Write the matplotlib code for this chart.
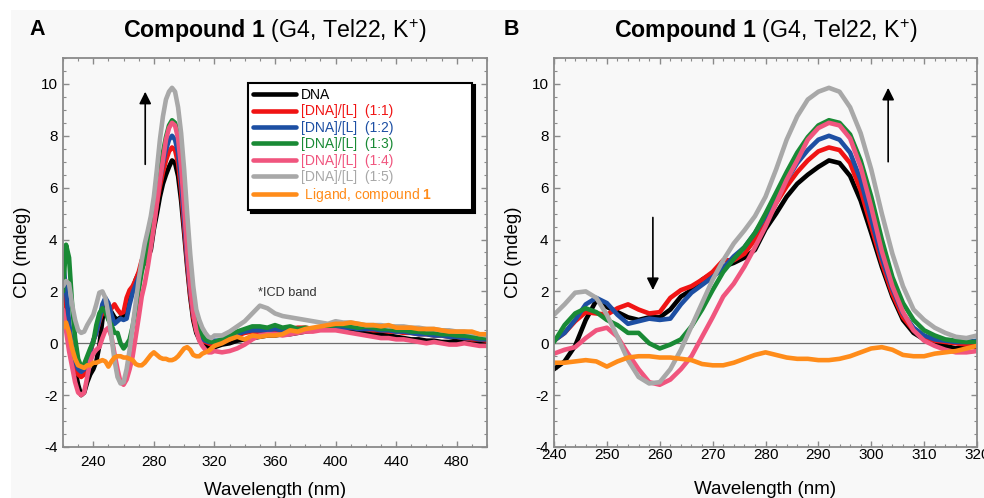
import numpy as np
import matplotlib
matplotlib.use("Agg")
import matplotlib.pyplot as plt
from matplotlib.patches import Rectangle
from matplotlib.ticker import MultipleLocator

plt.rcParams['font.family'] = ['Liberation Sans', 'DejaVu Sans']
plt.rcParams['mathtext.fontset'] = 'custom'
plt.rcParams['mathtext.rm'] = 'Liberation Sans'
plt.rcParams['mathtext.bf'] = 'Liberation Sans:bold'
plt.rcParams['mathtext.it'] = 'Liberation Sans:italic'
plt.rcParams['axes.unicode_minus'] = False

# wavelength grid (nm): 2 nm steps in the UV band, 5 nm steps beyond
wavelength = np.concatenate([np.arange(220, 321, 2), np.arange(325, 501, 5)])

dna = [2.5, 1.6, 0.6, -0.3, -1.0, -1.6, -2.0, -1.9, -1.5, -1.2, -1.0,
       -0.7, -0.1, 0.9, 1.65, 1.4, 1.2, 1.0, 0.9, 1.0, 1.0, 1.3, 1.8, 2.05, 2.45, 2.7, 2.95, 3.1, 3.3, 3.6, 4.4,
       5.0, 5.65, 6.15, 6.5, 6.8, 7.05, 6.95, 6.45, 5.5, 4.25, 2.95, 1.8, 0.9, 0.4, 0.15, 0.0, -0.1, -0.2, -0.1, -0.15,
       -0.05, 0.0, 0.1, 0.15, 0.2, 0.25, 0.3, 0.3, 0.35, 0.35, 0.4, 0.45, 0.5, 0.55, 0.55, 0.55, 0.55, 0.5,
       0.45, 0.4, 0.35, 0.35, 0.3, 0.25, 0.2, 0.15, 0.15, 0.1, 0.1, 0.05, 0.05, 0.1, 0.05, 0.05, 0.0, 0.05]

ratio_1_1 = [2.6, 1.5, 0.5, -0.3, -0.9, -1.2, -1.3, -1.2, -0.8, -0.4, 0.1,
             0.4, 0.85, 1.2, 1.15, 1.1, 1.35, 1.5, 1.3, 1.15, 1.2, 1.75, 2.05, 2.2, 2.45, 2.75, 3.2, 3.2, 3.45, 4.0, 4.6,
             5.4, 6.05, 6.6, 7.05, 7.4, 7.55, 7.45, 6.95, 5.9, 4.5, 3.1, 1.9, 1.0, 0.5, 0.25, 0.1, 0.05, 0.0, -0.05, -0.1,
             0.1, 0.15, 0.3, 0.4, 0.45, 0.45, 0.45, 0.5, 0.5, 0.55, 0.6, 0.6, 0.55, 0.6, 0.65, 0.65, 0.6, 0.6,
             0.6, 0.55, 0.5, 0.5, 0.45, 0.45, 0.4, 0.4, 0.35, 0.35, 0.3, 0.3, 0.25, 0.25, 0.2, 0.15, 0.15, 0.1]

ratio_1_2 = [3.2, 2.0, 0.8, -0.2, -0.7, -1.0, -1.1, -1.0, -0.7, -0.3, 0.1,
             0.4, 0.9, 1.5, 1.75, 1.55, 1.1, 0.75, 0.85, 0.95, 0.9, 0.95, 1.5, 1.95, 2.25, 2.55, 2.9, 3.35, 3.7, 4.25, 4.9,
             5.6, 6.3, 6.95, 7.45, 7.85, 8.0, 7.85, 7.35, 6.3, 4.8, 3.3, 2.1, 1.15, 0.6, 0.3, 0.15, 0.1, 0.05, 0.05, 0.1,
             0.1, 0.2, 0.35, 0.45, 0.5, 0.5, 0.5, 0.55, 0.5, 0.5, 0.5, 0.55, 0.5, 0.55, 0.6, 0.6, 0.6, 0.6,
             0.55, 0.55, 0.55, 0.5, 0.5, 0.45, 0.45, 0.4, 0.35, 0.35, 0.3, 0.3, 0.25, 0.25, 0.2, 0.2, 0.15, 0.15]

ratio_1_3 = [2.0, 3.8, 3.3, 1.5, 0.2, -0.6, -0.9, -0.8, -0.5, -0.2, 0.05,
             0.7, 1.15, 1.35, 1.2, 0.9, 0.7, 0.4, 0.4, 0.0, -0.2, -0.05, 0.15, 0.65, 1.3, 2.05, 2.75, 3.25, 3.7, 4.25, 5.0,
             5.8, 6.6, 7.35, 7.95, 8.4, 8.6, 8.5, 8.05, 7.05, 5.65, 4.0, 2.55, 1.55, 0.9, 0.5, 0.3, 0.15, 0.1, 0.05, 0.05,
             0.15, 0.3, 0.45, 0.55, 0.65, 0.65, 0.6, 0.7, 0.6, 0.65, 0.55, 0.6, 0.55, 0.6, 0.65, 0.7, 0.7, 0.65,
             0.6, 0.65, 0.6, 0.55, 0.55, 0.5, 0.5, 0.45, 0.45, 0.4, 0.4, 0.35, 0.35, 0.3, 0.3, 0.25, 0.2, 0.2]

ratio_1_4 = [1.3, 0.5, -0.3, -0.9, -1.5, -1.9, -2.0, -1.9, -1.3, -0.7, -0.4,
             -0.25, -0.15, 0.2, 0.5, 0.6, 0.25, -0.4, -1.0, -1.5, -1.6, -1.4, -1.0, -0.5, 0.25, 1.0, 1.8, 2.3, 2.95, 3.7, 4.5,
             5.4, 6.3, 7.05, 7.85, 8.3, 8.5, 8.4, 7.9, 6.8, 5.25, 3.55, 2.2, 1.2, 0.5, 0.1, -0.1, -0.25, -0.35, -0.35, -0.3,
             -0.35, -0.3, -0.2, -0.05, 0.15, 0.3, 0.35, 0.35, 0.3, 0.35, 0.4, 0.45, 0.45, 0.5, 0.5, 0.5, 0.45, 0.4,
             0.35, 0.3, 0.25, 0.2, 0.2, 0.15, 0.15, 0.1, 0.05, 0.0, 0.05, 0.0, -0.05, -0.05, 0.0, -0.05, -0.1, -0.1]

ratio_1_5 = [2.2, 2.4, 2.3, 1.5, 0.9, 0.5, 0.4, 0.45, 0.7, 0.9, 1.1,
             1.5, 1.95, 2.0, 1.75, 1.1, 0.25, -0.65, -1.3, -1.55, -1.5, -1.0, -0.25, 0.65, 1.55, 2.45, 3.2, 3.85, 4.35, 4.9, 5.65,
             6.7, 7.85, 8.75, 9.4, 9.7, 9.85, 9.7, 9.1, 8.1, 6.7, 5.0, 3.45, 2.2, 1.3, 0.9, 0.6, 0.4, 0.25, 0.2, 0.3,
             0.3, 0.45, 0.65, 0.85, 1.15, 1.45, 1.35, 1.15, 1.05, 1.0, 0.95, 0.9, 0.85, 0.8, 0.75, 0.85, 0.8, 0.8,
             0.75, 0.7, 0.7, 0.7, 0.65, 0.65, 0.65, 0.6, 0.6, 0.55, 0.55, 0.5, 0.5, 0.45, 0.45, 0.4, 0.35, 0.3]

ligand = [0.6, 0.8, 0.4, -0.2, -0.6, -0.85, -0.9, -0.95, -0.85, -0.85, -0.75,
          -0.75, -0.7, -0.65, -0.7, -0.9, -0.7, -0.55, -0.5, -0.5, -0.55, -0.55, -0.6, -0.65, -0.8, -0.85, -0.85, -0.75, -0.6, -0.45, -0.35,
          -0.45, -0.55, -0.6, -0.6, -0.65, -0.65, -0.6, -0.5, -0.35, -0.2, -0.15, -0.25, -0.45, -0.5, -0.5, -0.4, -0.35, -0.3, -0.2, -0.1,
          0.0, 0.15, 0.25, 0.15, 0.3, 0.25, 0.3, 0.3, 0.35, 0.5, 0.45, 0.55, 0.6, 0.65, 0.7, 0.75, 0.75, 0.8,
          0.75, 0.7, 0.7, 0.65, 0.7, 0.6, 0.6, 0.6, 0.55, 0.55, 0.55, 0.5, 0.45, 0.45, 0.45, 0.45, 0.35, 0.35]

labels = ["DNA", "[DNA]/[L]  (1:1)", "[DNA]/[L]  (1:2)", "[DNA]/[L]  (1:3)",
          "[DNA]/[L]  (1:4)", "[DNA]/[L]  (1:5)", r" Ligand, compound $\mathbf{1}$"]
series = [dna, ratio_1_1, ratio_1_2, ratio_1_3, ratio_1_4, ratio_1_5, ligand]
colors = ["#000000", "#f01414", "#1d4fa3", "#198a35", "#f0557e", "#a8a8a8", "#ff8c1a"]

BG = "#f8f8f8"
SPINE = "#8a8a8a"

fig = plt.figure(figsize=(9.84, 4.98), dpi=100)
fig.patch.set_facecolor("white")
fig.patches.append(Rectangle((11 / 984, 0), 1, 1 - 10 / 498, transform=fig.transFigure,
                             facecolor=BG, edgecolor="none", zorder=-10))

axA = fig.add_axes([63 / 984, 1 - 447 / 498, 424 / 984, 389 / 498])
axB = fig.add_axes([554 / 984, 1 - 447 / 498, 423 / 984, 389 / 498])

for ax in (axA, axB):
    ax.set_facecolor(BG)
    ax.axhline(0, color="#6e6e6e", lw=0.9, zorder=1)
    handles = []
    for y, c, lab in zip(series, colors, labels):
        h, = ax.plot(wavelength, y, color=c, lw=3.3, label=lab, solid_capstyle="round", zorder=2)
        handles.append(h)
    ax.set_ylim(-4, 11)
    ax.yaxis.set_major_locator(MultipleLocator(2))
    ax.yaxis.set_minor_locator(MultipleLocator(0.5))
    for s in ax.spines.values():
        s.set_color(SPINE)
        s.set_linewidth(1.3)
    ax.tick_params(which="both", direction="in", top=True, right=True, color=SPINE, labelsize=11)
    ax.tick_params(which="major", length=4, width=1.0)
    ax.tick_params(which="minor", length=2.2, width=0.8)
    ax.tick_params(axis="y", pad=4)
    ax.set_ylabel("CD (mdeg)", fontsize=13.5, labelpad=7)

axA.set_xlim(220, 500)
axA.xaxis.set_major_locator(MultipleLocator(40))
axA.xaxis.set_minor_locator(MultipleLocator(10))
axA.tick_params(axis="x", pad=6)
axA.set_xlabel("Wavelength (nm)", fontsize=13.5, labelpad=9)

axB.set_xlim(240, 320)
axB.xaxis.set_major_locator(MultipleLocator(10))
axB.xaxis.set_minor_locator(MultipleLocator(2))
axB.tick_params(axis="x", pad=1)
axB.set_xlabel("Wavelength (nm)", fontsize=13.5, labelpad=13.5)

# legend in panel A (trailing spaces keep the wide right margin of the original box)
leg_labels = labels[:-1] + [labels[-1] + "          "]
leg = axA.legend(handles=handles, labels=leg_labels, loc="upper left", bbox_to_anchor=(0.436, 0.937),
                 borderaxespad=0, fontsize=10, handlelength=3.1, handletextpad=0.3,
                 labelspacing=0.17, borderpad=0.4, frameon=True, fancybox=False,
                 shadow={"color": "black", "alpha": 1.0})
leg.get_frame().set_edgecolor("black")
leg.get_frame().set_linewidth(1.5)
leg.get_frame().set_facecolor("white")
for txt, c in zip(leg.get_texts(), colors):
    txt.set_color(c)

# arrows
arrow_kw = dict(arrowstyle="-|>", color="black", lw=1.2, mutation_scale=18, shrinkA=0, shrinkB=0)
axA.annotate("", xy=(274.3, 9.7), xytext=(274.3, 6.9), arrowprops=arrow_kw, zorder=5)
axB.annotate("", xy=(303.2, 9.85), xytext=(303.2, 7.0), arrowprops=arrow_kw, zorder=5)
axB.annotate("", xy=(258.7, 2.05), xytext=(258.7, 4.85), arrowprops=arrow_kw, zorder=5)

axA.text(349, 1.95, "*ICD band", fontsize=9.2, color="#333333", va="center", ha="left")

# titles and panel letters
title = r"$\mathbf{Compound\ 1}$ (G4, Tel22, K$^{+}$)"
fig.text((63 + 487) / 2 / 984, 1 - 38 / 498, title, ha="center", va="baseline", fontsize=16.7)
fig.text((554 + 977) / 2 / 984, 1 - 38 / 498, title, ha="center", va="baseline", fontsize=16.7)
fig.text(29 / 984, 1 - 35 / 498, "A", fontsize=15.5, fontweight="bold", va="baseline")
fig.text(504 / 984, 1 - 35 / 498, "B", fontsize=15.5, fontweight="bold", va="baseline")

fig.savefig("out.png", dpi=100, facecolor=fig.get_facecolor())
